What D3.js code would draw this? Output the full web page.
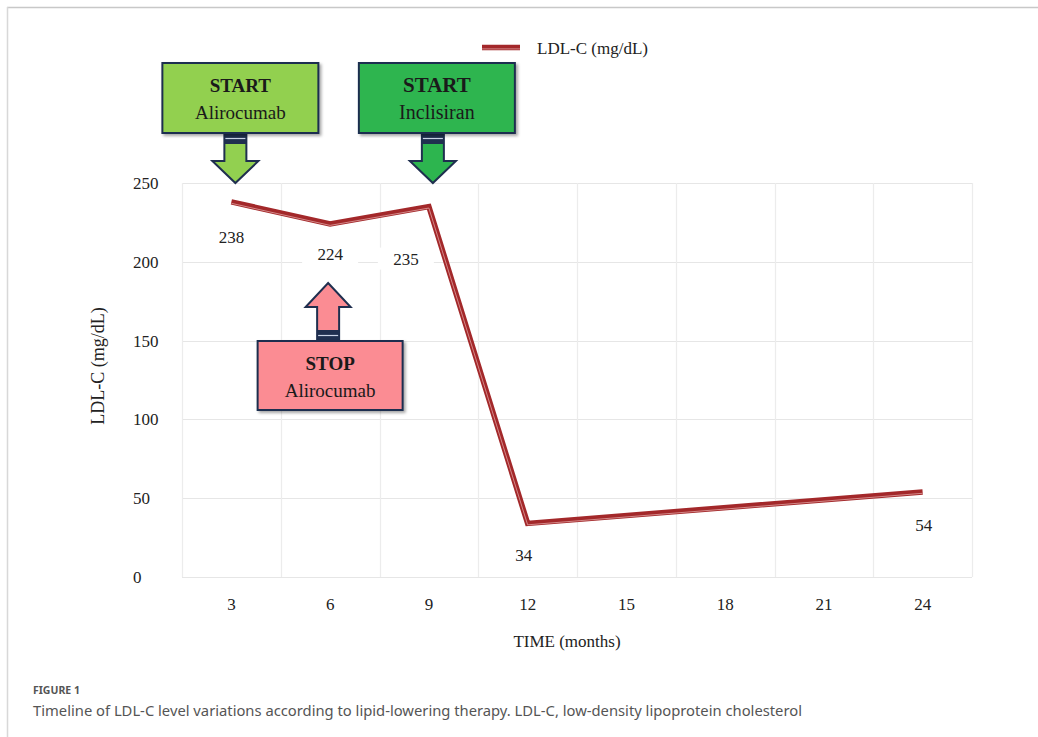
<!DOCTYPE html>
<html><head><meta charset="utf-8">
<script src="https://cdn.jsdelivr.net/npm/d3@7"></script>
<style>body{margin:0;background:#fff;} svg{display:block}</style>
</head><body><svg id="c" width="1038" height="737"></svg>
<script>
// ---- data ----
const timeTicks = [3, 6, 9, 12, 15, 18, 21, 24];
const measuredMonths = [3, 6, 9, 12, 24];
const ldlValues = [238, 224, 235, 34, 54];
const yTicks = [0, 50, 100, 150, 200, 250];
const seriesName = "LDL-C (mg/dL)";
const xTitle = "TIME (months)";
const yTitle = "LDL-C (mg/dL)";
const annotations = [
  {top: "START", bottom: "Alirocumab", month: 3, dir: "down", fill: "#92d050"},
  {top: "START", bottom: "Inclisiran", month: 9, dir: "down", fill: "#2db54f"},
  {top: "STOP", bottom: "Alirocumab", month: 6, dir: "up", fill: "#fb8c93"}
];

// ---- layout ----
const svg = d3.select("#c");
const serif = "'Liberation Serif', 'Times New Roman', serif";
const plot = {left: 182, right: 972, top: 183, bottom: 577};
const x = d3.scaleBand().domain(timeTicks).range([plot.left, plot.right]).padding(0);
const y = d3.scaleLinear().domain([0, 250]).range([plot.bottom, plot.top]);
const cx = m => x(m) + x.bandwidth() / 2;

const defs = svg.append("defs");
const f = defs.append("filter").attr("id", "sh").attr("x", "-10%").attr("y", "-10%").attr("width", "130%").attr("height", "140%");
f.append("feDropShadow").attr("dx", 2).attr("dy", 2).attr("stdDeviation", 1.6).attr("flood-color", "#000").attr("flood-opacity", 0.35);

// frame
svg.append("line").attr("x1", 7).attr("x2", 1038).attr("y1", 7.5).attr("y2", 7.5).attr("stroke", "#c8c8c8").attr("stroke-width", 1.5);
svg.append("line").attr("x1", 7.5).attr("x2", 7.5).attr("y1", 7).attr("y2", 737).attr("stroke", "#d8d8d8").attr("stroke-width", 1.5);

// grid
const g = svg.append("g");
g.selectAll(".hg").data(yTicks).join("line")
  .attr("x1", plot.left).attr("x2", plot.right)
  .attr("y1", d => Math.round(y(d)) + 0.5).attr("y2", d => Math.round(y(d)) + 0.5)
  .attr("stroke", "#e6e6e6").attr("stroke-width", 1.2);
const vlines = timeTicks.map(m => x(m)).concat([plot.right]);
g.selectAll(".vg").data(vlines).join("line")
  .attr("x1", d => Math.round(d) + 0.5).attr("x2", d => Math.round(d) + 0.5)
  .attr("y1", plot.top).attr("y2", plot.bottom)
  .attr("stroke", "#ececec").attr("stroke-width", 1.2);

// y tick labels (axis without lines)
const yAxis = svg.append("g").attr("transform", `translate(133,0)`)
  .call(d3.axisRight(y).tickValues(yTicks).tickSize(0).tickPadding(0));
yAxis.select(".domain").remove();
yAxis.selectAll("text").attr("font-family", serif).attr("font-size", 17).attr("fill", "#222").attr("text-anchor", "start");

// x tick labels
const xAxis = svg.append("g").attr("transform", `translate(0,${plot.bottom})`)
  .call(d3.axisBottom(x).tickSize(0).tickPadding(21));
xAxis.select(".domain").remove();
xAxis.selectAll("text").attr("font-family", serif).attr("font-size", 17).attr("fill", "#222");

// axis titles
svg.append("text").attr("x", 567).attr("y", 647).attr("text-anchor", "middle")
  .attr("font-family", serif).attr("font-size", 17).attr("fill", "#222").text(xTitle);
svg.append("text").attr("transform", "translate(104,366) rotate(-90)").attr("text-anchor", "middle")
  .attr("font-family", serif).attr("font-size", 18).attr("fill", "#222").text(yTitle);

// data labels with white backgrounds
const labelDx = [0, 0, -23, -4, 1];
const labelDy = [35, 30, 52, 32, 33];
const pts = measuredMonths.map((m, i) => ({m, v: ldlValues[i], i}));
const lab = svg.append("g");
lab.selectAll("rect").data(pts).join("rect")
  .attr("x", d => cx(d.m) + labelDx[d.i] - 28).attr("y", d => y(d.v) + labelDy[d.i] - 11)
  .attr("width", 56).attr("height", 22).attr("fill", "#fff");
lab.selectAll("text").data(pts).join("text")
  .attr("x", d => cx(d.m) + labelDx[d.i]).attr("y", d => y(d.v) + labelDy[d.i] + 6)
  .attr("text-anchor", "middle").attr("font-family", serif).attr("font-size", 17).attr("fill", "#222")
  .text(d => d.v);

// line (double-line style)
const line = d3.line().x(d => cx(d.m)).y(d => y(d.v));
svg.append("path").datum(pts).attr("d", line).attr("fill", "none")
  .attr("stroke", "#a3282a").attr("stroke-width", 5.5).attr("stroke-linejoin", "miter");
svg.append("path").datum(pts).attr("d", line).attr("fill", "none")
  .attr("transform", "translate(0,1.4)")
  .attr("stroke", "#d99393").attr("stroke-width", 0.9).attr("stroke-linejoin", "miter");

// legend
svg.append("line").attr("x1", 482).attr("x2", 520).attr("y1", 47.5).attr("y2", 47.5).attr("stroke", "#a3282a").attr("stroke-width", 5.5);
svg.append("line").attr("x1", 482).attr("x2", 520).attr("y1", 48.9).attr("y2", 48.9).attr("stroke", "#d99393").attr("stroke-width", 0.9);
svg.append("text").attr("x", 537).attr("y", 54).attr("font-family", serif).attr("font-size", 17).attr("fill", "#222").text(seriesName);

// annotations
const navy = "#1f2f4f";
const boxLayout = {
  "3": {bx: 9, aw: 4, box: [63, 133], w: 156, fs1: 19, fs2: 19},
  "9": {bx: 8, aw: 4, box: [63, 133], w: 156, fs1: 21, fs2: 20},
  "6": {bx: 0, aw: -2, box: [341, 410], w: 145, fs1: 19, fs2: 19}
};
annotations.forEach(a => {
  const L = boxLayout[a.month];
  const c = cx(a.month);
  const bxc = c + L.bx, ax = c + L.aw;
  const ag = svg.append("g");
  let pathD, band;
  if (a.dir === "down") {
    const t = L.box[1], hb = 161, tip = 183, sw = 11, hw = 23;
    pathD = `M${ax - sw},${t} L${ax + sw},${t} L${ax + sw},${hb} L${ax + hw},${hb} L${ax},${tip} L${ax - hw},${hb} L${ax - sw},${hb} Z`;
    band = [t, t + 11];
  } else {
    const b = L.box[0], hb = 307, tip = 283, sw = 11, hw = 22.5;
    pathD = `M${ax - sw},${b} L${ax + sw},${b} L${ax + sw},${hb} L${ax + hw},${hb} L${ax},${tip} L${ax - hw},${hb} L${ax - sw},${hb} Z`;
    band = [b - 11, b];
  }
  ag.append("path").attr("d", pathD).attr("fill", a.fill).attr("stroke", navy).attr("stroke-width", 2).attr("stroke-linejoin", "miter");
  ag.append("rect").attr("x", ax - 11).attr("y", band[0]).attr("width", 22).attr("height", band[1] - band[0]).attr("fill", navy);
  ag.append("line").attr("x1", ax - 10).attr("x2", ax + 10).attr("y1", (band[0] + band[1]) / 2).attr("y2", (band[0] + band[1]) / 2)
    .attr("stroke", "#c9d3e6").attr("stroke-width", 1.2);
  const bx0 = bxc - L.w / 2;
  ag.append("rect").attr("x", bx0).attr("y", L.box[0]).attr("width", L.w).attr("height", L.box[1] - L.box[0])
    .attr("fill", a.fill).attr("stroke", navy).attr("stroke-width", 2).attr("filter", "url(#sh)");
  const mid = (L.box[0] + L.box[1]) / 2;
  ag.append("text").attr("x", bxc).attr("y", mid - 6).attr("text-anchor", "middle")
    .attr("font-family", serif).attr("font-weight", "bold").attr("font-size", L.fs1).attr("fill", "#1a1a1a").text(a.top);
  ag.append("text").attr("x", bxc).attr("y", mid + 21).attr("text-anchor", "middle")
    .attr("font-family", serif).attr("font-size", L.fs2).attr("fill", "#1a1a1a").text(a.bottom);
});

// caption
svg.append("text").attr("x", 33).attr("y", 694).attr("font-family", "'Noto Sans', sans-serif").attr("font-size", 10.5)
  .attr("font-weight", "bold").attr("fill", "#555").text("FIGURE 1");
svg.append("text").attr("x", 33).attr("y", 716).attr("font-family", "'Noto Sans', sans-serif").attr("font-size", 13.5)
  .attr("fill", "#555").attr("textLength", 769).attr("lengthAdjust", "spacingAndGlyphs")
  .text("Timeline of LDL-C level variations according to lipid-lowering therapy. LDL-C, low-density lipoprotein cholesterol");
</script></body></html>
